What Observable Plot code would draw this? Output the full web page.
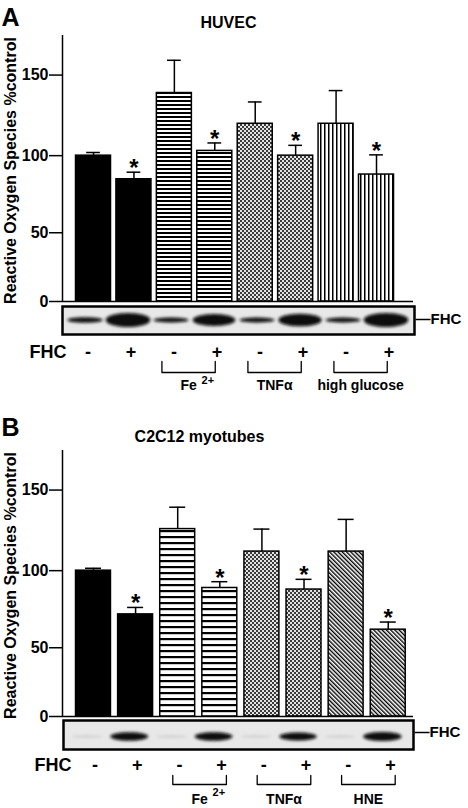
<!DOCTYPE html>
<html>
<head>
<meta charset="utf-8">
<script src="https://cdn.jsdelivr.net/npm/d3@7"></script>
<script src="https://cdn.jsdelivr.net/npm/@observablehq/plot@0.6"></script>
<style>
html, body { margin: 0; padding: 0; background: #fff; }
body { width: 468px; height: 808px; overflow: hidden; }
svg { display: block; }
</style>
</head>
<body>
<div id="chart"></div>
<script>
// ---------------- data ----------------
const lanes = [1, 2, 3, 4, 5, 6, 7, 8];
const fhcSigns = ["-", "+", "-", "+", "-", "+", "-", "+"];
const groupLanes = [[3, 4], [5, 6], [7, 8]];
const yTicks = [0, 50, 100, 150];
const yLabel = "Reactive Oxygen Species %control";

// Panel A: HUVEC
const treatmentsA = ["control", "control", "Fe", "Fe", "TNF", "TNF", "glucose", "glucose"];
const rosA = [100, 85, 139, 103, 120, 100, 120, 88];
const semA = [2, 4.5, 20, 5, 13.5, 6.5, 20.5, 12.5];
const significantA = [false, true, false, true, false, true, false, true];
const blotA = [0.35, 1, 0.3, 0.85, 0.3, 0.9, 0.3, 1];
const groupLabelsA = ["Fe", "TNFα", "high glucose"];
const groupSupA = ["2+", "", ""];

// Panel B: C2C12 myotubes
const treatmentsB = ["control", "control", "Fe", "Fe", "TNF", "TNF", "HNE", "HNE"];
const rosB = [100, 72, 126, 89, 112, 88, 112, 62];
const semB = [1.5, 4.5, 13.5, 4, 14, 6.5, 20, 5];
const significantB = [false, true, false, true, false, true, false, true];
const blotB = [0.05, 0.9, 0.05, 0.9, 0.05, 0.85, 0.05, 0.95];
const groupLabelsB = ["Fe", "TNFα", "HNE"];
const groupSupB = ["2+", "", ""];

// ---------------- styles ----------------
const FONT = '"Liberation Sans", Arial, Helvetica, sans-serif';
const baseStyle = {fontFamily: FONT, fontWeight: "bold", fontSize: "16px", color: "black", background: "white", overflow: "visible"};
const fillsA = {control: "black", Fe: "url(#hA)", TNF: "url(#cA)", glucose: "url(#vA)"};
const fillsB = {control: "black", Fe: "url(#hB)", TNF: "url(#cB)", HNE: "url(#dB)"};

const defsA = `
<pattern id="hA" patternUnits="userSpaceOnUse" width="8" height="4"><rect width="8" height="4" fill="#fff"/><rect width="8" height="2" fill="#000"/></pattern>
<pattern id="cA" patternUnits="userSpaceOnUse" width="4" height="4"><rect width="4" height="4" fill="#e4e4e4"/><rect width="2" height="2" fill="#3a3a3a"/><rect x="2" y="2" width="2" height="2" fill="#3a3a3a"/></pattern>
<pattern id="vA" patternUnits="userSpaceOnUse" width="4" height="8"><rect width="4" height="8" fill="#fff"/><rect width="1.5" height="8" fill="#000"/></pattern>`;
const defsB = `
<pattern id="hB" patternUnits="userSpaceOnUse" width="8" height="6"><rect width="8" height="6" fill="#fff"/><rect width="8" height="2.2" fill="#000"/></pattern>
<pattern id="cB" patternUnits="userSpaceOnUse" width="4" height="4"><rect width="4" height="4" fill="#e4e4e4"/><rect width="2" height="2" fill="#3a3a3a"/><rect x="2" y="2" width="2" height="2" fill="#3a3a3a"/></pattern>
<pattern id="dB" patternUnits="userSpaceOnUse" width="3" height="3" patternTransform="rotate(-45)"><rect width="3" height="3" fill="#fff"/><rect width="1.4" height="3" fill="#000"/></pattern>`;

function addDefs(svg, html) {
  const defs = document.createElementNS("http://www.w3.org/2000/svg", "defs");
  defs.innerHTML = html;
  svg.insertBefore(defs, svg.firstChild);
}

// ---------------- bar chart ----------------
function barChart(cfg) {
  const rows = lanes.map((lane, i) => ({
    lane, value: cfg.values[i], sem: cfg.sems[i], sig: cfg.sig[i], treatment: cfg.treatments[i]
  }));
  const hw = cfg.barHalf, cap = cfg.capHalf;
  const svg = Plot.plot({
    width: 468, height: cfg.height,
    marginTop: cfg.marginTop, marginBottom: 1, marginLeft: 62, marginRight: 55,
    style: baseStyle,
    x: {domain: cfg.xDomain, axis: null},
    y: {type: "pow", exponent: 1.085, domain: [0, 174], axis: null},
    color: {type: "identity"},
    marks: [
      Plot.rect(rows, {x1: d => d.lane - hw, x2: d => d.lane + hw, y1: 0, y2: "value",
        fill: d => cfg.fills[d.treatment], stroke: "black", strokeWidth: 1.5}),
      Plot.ruleX(rows, {x: "lane", y1: "value", y2: d => d.value + d.sem, strokeWidth: 1.5}),
      Plot.ruleY(rows, {y: d => d.value + d.sem, x1: d => d.lane - cap, x2: d => d.lane + cap, strokeWidth: 1.5}),
      Plot.text(rows.filter(d => d.sig), {x: "lane", y: d => d.value + d.sem, text: () => "*",
        lineAnchor: "bottom", dy: 4, fontSize: 24}),
      Plot.ruleY([0], {strokeWidth: 1.5}),
      Plot.ruleX([cfg.xDomain[0]], {strokeWidth: 1.5}),
      Plot.axisY(yTicks, {tickSize: 13, tickPadding: 1, strokeWidth: 1.5, label: null, fontSize: 16}),
      Plot.text([cfg.letter], {frameAnchor: "top-left", textAnchor: "start", lineAnchor: "top",
        dx: -61, dy: cfg.letterDy, fontSize: 25}),
      Plot.text([cfg.title], {frameAnchor: "top", textAnchor: "middle", lineAnchor: "bottom", dx: cfg.titleDx, dy: cfg.titleDy, fontSize: 16}),
      Plot.text([yLabel], {frameAnchor: "left", textAnchor: "middle", lineAnchor: "middle", rotate: -90, dx: -52, dy: 2, fontSize: 16})
    ]
  });
  addDefs(svg, cfg.defs);
  return svg;
}

// ---------------- blot + labels ----------------
function blotChart(cfg) {
  const rows = lanes.map((lane, i) => ({lane, sign: fhcSigns[i], band: cfg.bands[i]}));
  const groups = cfg.groupLabels.map((label, i) => ({
    label, sup: cfg.groupSups[i],
    a: groupLanes[i][0] + cfg.bracketPad[0], b: groupLanes[i][1] + cfg.bracketPad[1]
  }));
  const blotH = cfg.height - cfg.marginTop - cfg.marginBottom;
  const below = px => -px / blotH;
  const bracketPts = groups.flatMap((g, i) => [
    {g: i, x: g.a, y: below(cfg.bracketTop)},
    {g: i, x: g.a, y: below(cfg.bracketBottom)},
    {g: i, x: g.b, y: below(cfg.bracketBottom)},
    {g: i, x: g.b, y: below(cfg.bracketTop)}
  ]);
  const svg = Plot.plot({
    width: 468, height: cfg.height,
    marginTop: cfg.marginTop, marginBottom: cfg.marginBottom, marginLeft: cfg.marginLeft, marginRight: cfg.marginRight,
    style: baseStyle,
    x: {domain: cfg.xDomain, axis: null},
    y: {domain: [0, 1], axis: null},
    opacity: {type: "identity"},
    marks: [
      Plot.frame({fill: "#e8e8e8", stroke: "black", strokeWidth: 2.5}),
      Plot.rect(rows, {
        x1: d => d.lane - (cfg.bandW0 + cfg.bandW1 * d.band), x2: d => d.lane + (cfg.bandW0 + cfg.bandW1 * d.band),
        y1: d => 0.5 - (0.02 + cfg.bandScale * d.band), y2: d => 0.5 + (0.02 + cfg.bandScale * d.band),
        rx: 100, ry: 100, fill: "#0a0a0a", fillOpacity: d => Math.min(1, d.band * 3.5),
        dx: cfg.bandDx, dy: cfg.bandDy, ariaDescription: "bands"
      }),
      Plot.text(["—FHC"], {frameAnchor: "right", textAnchor: "start", dx: 1, dy: cfg.rightDy, fontSize: 15}),
      Plot.text(["FHC"], {frameAnchor: "bottom-left", textAnchor: "end", lineAnchor: "bottom",
        dx: cfg.fhcDx, dy: cfg.signDy, fontSize: 18}),
      Plot.text(rows, {x: "lane", text: "sign", frameAnchor: "bottom", textAnchor: "middle", lineAnchor: "bottom",
        dx: cfg.signDx, dy: cfg.signDy, fontSize: 18}),
      Plot.line(bracketPts, {x: "x", y: "y", z: "g", strokeWidth: 1.3}),
      Plot.text(groups, {x: d => (d.a + d.b) / 2, text: "label", frameAnchor: "bottom", textAnchor: "middle", lineAnchor: "bottom",
        dy: cfg.groupDy, fontSize: 14}),
      Plot.text(groups.filter(d => d.sup), {x: d => (d.a + d.b) / 2, text: "sup", frameAnchor: "bottom",
        textAnchor: "start", lineAnchor: "bottom", dx: 13, dy: cfg.supDy, fontSize: 11})
    ]
  });
  addDefs(svg, `<filter id="${cfg.blurId}" x="-30%" y="-100%" width="160%" height="300%"><feGaussianBlur stdDeviation="${cfg.blur}"/></filter>`);
  const g = svg.querySelector('[aria-description="bands"]');
  if (g) g.setAttribute("filter", `url(#${cfg.blurId})`);
  return svg;
}

const root = document.getElementById("chart");

root.append(barChart({
  values: rosA, sems: semA, sig: significantA, treatments: treatmentsA, fills: fillsA, defs: defsA,
  height: 302, marginTop: 35, xDomain: [0.233, 8.915], barHalf: 0.433, capHalf: 0.17,
  letter: "A", letterDy: -27, title: "HUVEC", titleDx: -9.5, titleDy: -8
}));

root.append(blotChart({
  bands: blotA, groupLabels: groupLabelsA, groupSups: groupSupA,
  height: 108, marginTop: 4, marginBottom: 76, marginLeft: 62, marginRight: 54,
  xDomain: [0.488, 8.674], bandW0: 0.36, bandW1: 0.16, bandScale: 0.23, bandDx: 1, bandDy: 0,
  rightDy: -1, fhcDx: 4, signDx: 3.5, signDy: 23.5,
  bracketPad: [-0.2, 0.04], bracketTop: 27, bracketBottom: 38, groupDy: 55.5, supDy: 49.3,
  blurId: "blurA", blur: 1.6
}));

root.append(barChart({
  values: rosB, sems: semB, sig: significantB, treatments: treatmentsB, fills: fillsB, defs: defsB,
  height: 307, marginTop: 40, xDomain: [0.264, 8.6], barHalf: 0.415, capHalf: 0.19,
  letter: "B", letterDy: -32, title: "C2C12 myotubes", titleDx: -38.5, titleDy: -9
}));

root.append(blotChart({
  bands: blotB, groupLabels: groupLabelsB, groupSups: groupSupB,
  height: 91, marginTop: 3, marginBottom: 59, marginLeft: 63, marginRight: 55,
  xDomain: [0.36, 8.654], bandW0: 0.36, bandW1: 0.1, bandScale: 0.14, bandDx: -3, bandDy: 2,
  rightDy: -3, fhcDx: 8, signDx: 4.5, signDy: 21,
  bracketPad: [-0.05, 0.22], bracketTop: 26, bracketBottom: 35, groupDy: 54, supDy: 46,
  blurId: "blurB", blur: 1.4
}));
</script>
</body>
</html>
